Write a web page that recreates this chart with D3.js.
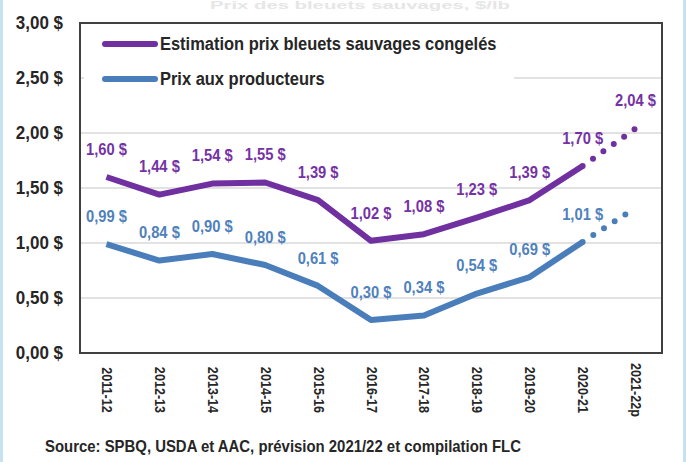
<!DOCTYPE html>
<html>
<head>
<meta charset="utf-8">
<script src="https://cdn.jsdelivr.net/npm/d3@7"></script>
<style>
  body { margin: 0; background: #fff; }
  svg text { font-family: "Liberation Sans", Arial, sans-serif; font-weight: bold; }
</style>
</head>
<body>
<svg id="chart" width="686" height="462"></svg>
<script>
// seasons on the x axis
const seasons = ["2011-12", "2012-13", "2013-14", "2014-15", "2015-16", "2016-17",
  "2017-18", "2018-19", "2019-20", "2020-21", "2021-22p"];
// estimated price, frozen wild blueberries ($/lb)
const frozenPrice = [1.60, 1.44, 1.54, 1.55, 1.39, 1.02, 1.08, 1.23, 1.39, 1.70, 2.04];
// price paid to producers ($/lb), last season is a forecast with no label
const producerPrice = [0.99, 0.84, 0.90, 0.80, 0.61, 0.30, 0.34, 0.54, 0.69, 1.01, 1.32];
const producerLabelled = [true, true, true, true, true, true, true, true, true, true, false];
const yTicks = [0, 0.5, 1, 1.5, 2, 2.5, 3];
const seriesNames = ["Estimation prix bleuets sauvages congelés", "Prix aux producteurs"];

const purple = "#7030a0", blue = "#4a7ebb";
const fmt = v => d3.format(".2f")(v).replace(".", ",") + " $";

const svg = d3.select("#chart");
const plot = { left: 80, right: 662, top: 23, bottom: 353 };

// squeeze a text horizontally, like a narrow font
function narrow(sel, k) {
  sel.each(function () {
    const w = this.getComputedTextLength();
    d3.select(this).attr("textLength", w * k).attr("lengthAdjust", "spacingAndGlyphs");
  });
}

// thin blue frame strips on the page edges
svg.append("rect").attr("x", 0).attr("y", 0).attr("width", 3).attr("height", 462).attr("fill", "#c4e2ef");
svg.append("rect").attr("x", 683).attr("y", 0).attr("width", 3).attr("height", 462).attr("fill", "#c4e2ef");

// faded title at the very top
svg.append("text").attr("x", 360).attr("y", 9).attr("text-anchor", "middle")
  .attr("font-size", 11).attr("fill", "#e6e6e6").text("Prix des bleuets sauvages, $/lb")
  .attr("textLength", 300).attr("lengthAdjust", "spacingAndGlyphs");

const x = d3.scaleBand().domain(seasons).range([plot.left, plot.right]);
const cx = d => x(d) + x.bandwidth() / 2;
const y = d3.scaleLinear().domain([0, 3]).range([plot.bottom, plot.top]);

// gridlines
svg.append("g").selectAll("line").data(yTicks.slice(1, -1)).join("line")
  .attr("x1", plot.left).attr("x2", plot.right)
  .attr("y1", d => y(d)).attr("y2", d => y(d))
  .attr("stroke", "#d9d9d9").attr("stroke-width", 1.5);

// y tick labels
svg.append("g").selectAll("text").data(yTicks).join("text")
  .attr("x", 63).attr("y", d => y(d)).attr("dy", "0.36em")
  .attr("text-anchor", "end").attr("font-size", 17.5).attr("fill", "#262626")
  .text(fmt).call(narrow, 0.97);

// x tick labels, rotated
svg.append("g").selectAll("text").data(seasons).join("text")
  .attr("transform", d => `translate(${cx(d) - 4.5},390) rotate(90)`)
  .attr("text-anchor", "middle").attr("font-size", 14).attr("fill", "#262626")
  .text(d => d).call(narrow, 0.9);

// legend box hides the gridline beneath it
const lg = svg.append("g");
lg.append("rect").attr("x", 84).attr("y", plot.top).attr("width", 430).attr("height", 92).attr("fill", "#fff");
seriesNames.forEach((name, i) => {
  const ly = i === 0 ? 44 : 79;
  lg.append("line").attr("x1", 105).attr("x2", 155).attr("y1", ly).attr("y2", ly)
    .attr("stroke", i === 0 ? purple : blue).attr("stroke-width", 6).attr("stroke-linecap", "round");
  lg.append("text").attr("x", 160).attr("y", ly).attr("dy", "0.36em")
    .attr("font-size", 17.5).attr("fill", "#262626").text(name).call(narrow, 0.94);
});

const line = d3.line().x(d => cx(d.s)).y(d => y(d.v));

function drawSeries(values, color, labelColor, labelled) {
  const pts = values.map((v, i) => ({ s: seasons[i], v, lab: labelled[i] }));
  const n = pts.length;
  svg.append("path").datum(pts.slice(0, n - 1)).attr("d", line)
    .attr("fill", "none").attr("stroke", color).attr("stroke-width", 6)
    .attr("stroke-linejoin", "round");
  svg.append("path").datum(pts.slice(n - 2)).attr("d", line)
    .attr("fill", "none").attr("stroke", color).attr("stroke-width", 6)
    .attr("stroke-linecap", "round").attr("stroke-dasharray", "0 12.7");
  svg.append("g").selectAll("text").data(pts.filter(p => p.lab)).join("text")
    .attr("x", d => cx(d.s)).attr("y", d => y(d.v) - 28).attr("dy", "0.36em")
    .attr("text-anchor", "middle").attr("font-size", 16).attr("fill", labelColor)
    .text(d => fmt(d.v)).call(narrow, 0.92);
}

drawSeries(frozenPrice, purple, "#7432a4", frozenPrice.map(() => true));
drawSeries(producerPrice, blue, "#4f81bd", producerLabelled);

// plot frame
svg.append("rect").attr("x", plot.left).attr("y", plot.top)
  .attr("width", plot.right - plot.left).attr("height", plot.bottom - plot.top)
  .attr("fill", "none").attr("stroke", "#404040").attr("stroke-width", 2);

// source note
svg.append("text").attr("x", 45).attr("y", 452).attr("font-size", 16.5).attr("fill", "#262626")
  .text("Source: SPBQ, USDA et AAC, prévision 2021/22 et compilation FLC")
  .attr("textLength", 476).attr("lengthAdjust", "spacingAndGlyphs");
</script>
</body>
</html>
